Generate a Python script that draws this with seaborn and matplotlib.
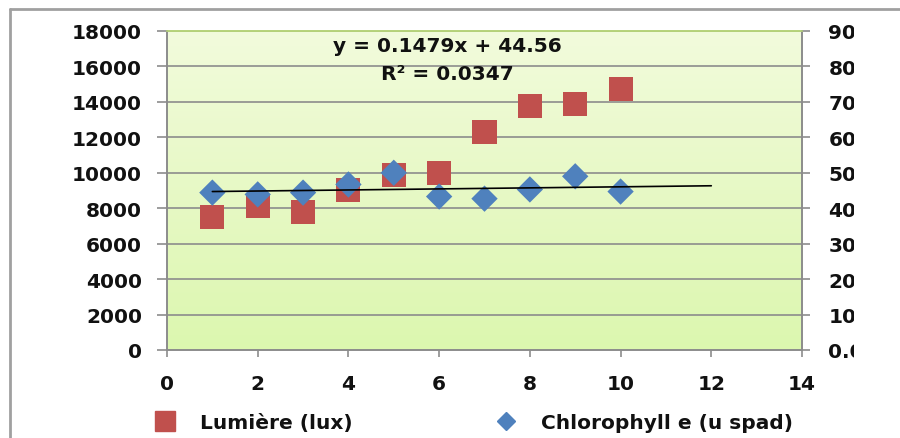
import numpy as np
import pandas as pd
import matplotlib
matplotlib.use("Agg")
import matplotlib.pyplot as plt
import seaborn as sns
from matplotlib.lines import Line2D
from matplotlib.patches import Rectangle

# ---- data ----
x_vals = [1, 2, 3, 4, 5, 6, 7, 8, 9, 10]
lumiere = [7500, 8100, 7800, 9050, 9900, 10000, 12300, 13750, 13900, 14750]
chloro = [44.4, 43.9, 44.4, 46.7, 50.0, 43.3, 42.7, 45.3, 49.0, 44.7]
trend_slope = 0.1479
trend_intercept = 44.56
trend_x = [1, 12]
left_ticks = [0, 2000, 4000, 6000, 8000, 10000, 12000, 14000, 16000, 18000]
right_ticks = [0, 10, 20, 30, 40, 50, 60, 70, 80, 90]
x_ticks = [0, 2, 4, 6, 8, 10, 12, 14]
label_lum = "Lumière (lux)"
label_chl = "Chlorophyll e (u spad)"
eq_text = "y = 0.1479x + 44.56"
r2_text = "R² = 0.0347"

df = pd.DataFrame({"x": x_vals, "lum": lumiere, "chl": chloro})

sns.set_theme(style="white")
plt.rcParams["font.family"] = ["DejaVu Sans"]
plt.rcParams["font.weight"] = "bold"

RED = "#C0504D"
BLUE = "#4F81BD"
GRID = "#8C8C8C"
FS = 14.5

fig = plt.figure(figsize=(9, 4.39), dpi=100)
fig.patch.set_facecolor("white")
ax = fig.add_axes([167/900, 1-351/439, (802-167)/900, (351-32)/439])

# gradient background
grad = np.linspace(0, 1, 256).reshape(-1, 1)
top = np.array([242, 251, 220]) / 255
bot = np.array([220, 247, 175]) / 255
img = top[None, None, :] * (1 - grad[:, :, None]) + bot[None, None, :] * grad[:, :, None]
ax.imshow(img, extent=[0, 1, 0, 1], transform=ax.transAxes, aspect="auto", zorder=0)

ax.set_xlim(0, 14)
ax.set_ylim(0, 18000)
ax.set_yticks(left_ticks)
ax.set_yticklabels([str(t) for t in left_ticks])
ax.set_xticks(x_ticks)
ax.set_xticklabels([str(t) for t in x_ticks])
for t in left_ticks[1:]:
    ax.axhline(t, color=GRID, lw=1.2, zorder=1)

sns.scatterplot(data=df, x="x", y="lum", ax=ax, marker="s", s=300, color=RED,
                edgecolor="none", zorder=3, legend=False)

ax2 = ax.twinx()
ax2.set_ylim(0, 90)
ax2.set_yticks(right_ticks)
ax2.set_yticklabels([f"{t:.2f}" for t in right_ticks])
sns.scatterplot(data=df, x="x", y="chl", ax=ax2, marker="D", s=180, color=BLUE,
                edgecolor="none", zorder=3, legend=False)
tx = np.array(trend_x, dtype=float)
sns.lineplot(x=tx, y=trend_slope * tx + trend_intercept, ax=ax2, color="black",
             lw=1.2, zorder=4)

for a in (ax, ax2):
    a.set_xlabel("")
    a.set_ylabel("")
    for s in a.spines.values():
        s.set_color("#8C8C8C")
        s.set_linewidth(1.2)
    a.spines["top"].set_color("#B5D27A")
ax.tick_params(axis="y", direction="out", length=7, width=1.2, color=GRID, pad=11,
               labelsize=FS, left=True)
ax.tick_params(axis="x", direction="out", length=5, width=1.2, color=GRID, pad=12,
               labelsize=FS, bottom=True)
ax2.tick_params(axis="y", direction="out", length=6, width=1.2, color=GRID, pad=13,
                labelsize=FS, right=True)
for lab in ax.get_xticklabels() + ax.get_yticklabels() + ax2.get_yticklabels():
    lab.set_fontweight("bold")
    lab.set_color("#111111")

ax.text(0.441, 0.956, eq_text, transform=ax.transAxes, ha="center", va="center",
        fontsize=FS, fontweight="bold", color="#111111", zorder=5)
ax.text(0.441, 0.868, r2_text, transform=ax.transAxes, ha="center", va="center",
        fontsize=FS, fontweight="bold", color="#111111", zorder=5)

# legend
handles = [Line2D([], [], marker="s", ls="none", color=RED, markersize=15, label=label_lum),
           Line2D([], [], marker="D", ls="none", color=BLUE, markersize=9.5, label=label_chl)]
leg = fig.legend(handles=handles, loc="center left", bbox_to_anchor=(145/900, 1-424/439),
                 ncol=2, frameon=False, columnspacing=6.6, handletextpad=0.75,
                 borderpad=0, borderaxespad=0,
                 prop={"size": FS, "weight": "bold"})
for t in leg.get_texts():
    t.set_color("#111111")

# crop at right like the reference
fig.add_artist(Rectangle((854/900, 0.0), 1, 1-14/439, transform=fig.transFigure,
                         facecolor="white", edgecolor="none", zorder=20))
# outer frame (top & left)
fig.add_artist(Line2D([10/900, 1], [1-10/439, 1-10/439], transform=fig.transFigure,
                      color="#A0A0A0", lw=2, zorder=21))
fig.add_artist(Line2D([10/900, 10/900], [0, 1-10/439], transform=fig.transFigure,
                      color="#A0A0A0", lw=2, zorder=21))

fig.savefig("out.png", dpi=100)
